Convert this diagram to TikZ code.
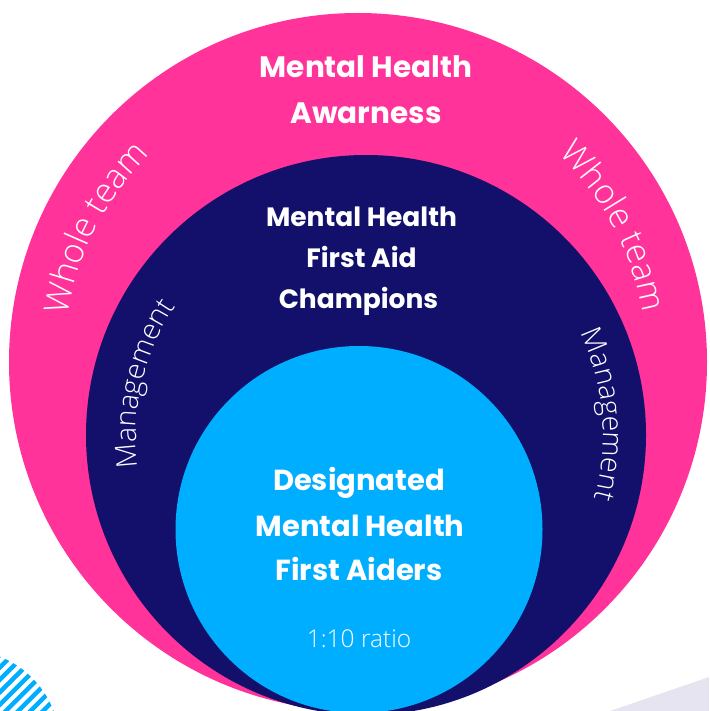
\documentclass[tikz,border=0pt]{standalone}
\usepackage{fontspec}
\usetikzlibrary{decorations.text,calc}
\newfontfamily\headfont{Poppins}
\newfontfamily\thinfont{Open Sans Light}
\definecolor{ringpink}{HTML}{FF3399}
\definecolor{ringnavy}{HTML}{12106B}
\definecolor{coresky}{HTML}{00AEFF}
\definecolor{softlilac}{HTML}{E6E4F1}
\tikzset{
  ring/.style={circle, inner sep=0pt, draw=none},
  headline/.style={anchor=base, text=white, inner sep=0pt, font=\headfont\bfseries\fontsize{#1}{#1}\selectfont},
  lighttext/.style={anchor=base, text=white, inner sep=0pt, font=\thinfont\fontsize{#1}{#1}\selectfont},
  arclabel/.style 2 args={decorate, decoration={text along path, text align=center, text color=white,
      text={|\thinfont\fontsize{#1}{#1}\selectfont|#2}}}
}
\begin{document}
\begin{tikzpicture}[x=1pt,y=1pt]
\useasboundingbox (0,0) rectangle (709,-711);
\clip (0,0) rectangle (709,-711);

% corner decorations
\fill[softlilac] (610,-711) -- (709,-677) -- (760,-711) -- cycle;
\begin{scope}
  \clip (-35,-745) circle (95);
  \foreach \k in {0,...,30}
    \draw[coresky, line width=4.4pt] (-200+12.4*\k,-830) -- ++(250,250);
\end{scope}

% nested circles
\node[ring, fill=ringpink, minimum size=698pt] (whole) at (358,-362) {};
\node[ring, fill=ringnavy, minimum size=560pt] (mgmt) at (366,-435) {};
\node[ring, fill=coresky, minimum size=367pt] (core) at (359,-529.5) {};

% outer ring
\node[headline=29.5] (aw1) at (366,-78) {Mental Health};
\node[headline=29.5] (aw2) at (366,-124) {Awarness};
\path[arclabel={34}{Whole team}] ($(whole.center)+(189:294)$) arc[start angle=189, end angle=117, radius=294];
\path[arclabel={34}{Whole team}] ($(whole.center)+(64:289)$) arc[start angle=64, end angle=-8, radius=289];

% middle ring
\node[headline=26.5] (ch1) at (361.5,-226) {Mental Health};
\node[headline=26.5] (ch2) at (361.5,-267) {First Aid};
\node[headline=26.5] (ch3) at (358.5,-308) {Champions};
\path[arclabel={28.5}{Management}] ($(mgmt.center)+(203:230)$) arc[start angle=203, end angle=131, radius=230];
\path[arclabel={28.5}{Management}] ($(mgmt.center)+(41:237)$) arc[start angle=41, end angle=-31, radius=237];

% core
\node[headline=29] (fa1) at (359,-490) {Designated};
\node[headline=29] (fa2) at (360,-536) {Mental Health};
\node[headline=29] (fa3) at (359,-580) {First Aiders};
\node[lighttext=24.5] (ratio) at (359,-647) {1:10 ratio};
\end{tikzpicture}
\end{document}
